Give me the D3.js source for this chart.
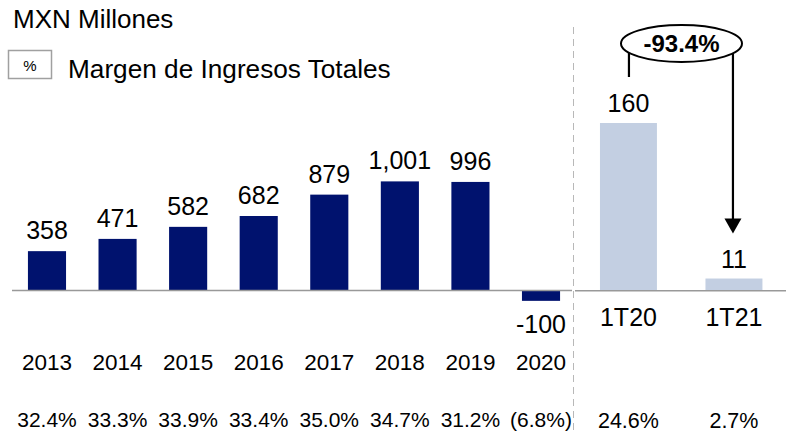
<!DOCTYPE html>
<html>
<head>
<meta charset="utf-8">
<script src="https://cdn.jsdelivr.net/npm/d3@7"></script>
<style>
  html, body { margin: 0; padding: 0; background: #fff; }
  svg { display: block; font-family: "Liberation Sans", Arial, sans-serif; }
</style>
</head>
<body>
<svg id="chart" width="786" height="432"></svg>
<script>
const years = ["2013", "2014", "2015", "2016", "2017", "2018", "2019", "2020"];
const annualValues = [358, 471, 582, 682, 879, 1001, 996, -100];
const annualMargins = [32.4, 33.3, 33.9, 33.4, 35.0, 34.7, 31.2, -6.8];
const quarters = ["1T20", "1T21"];
const quarterValues = [160, 11];
const quarterMargins = [24.6, 2.7];
const changeLabel = "-93.4%";
const unitLabel = "MXN Millones";
const legendLabel = "Margen de Ingresos Totales";

const navy = "#00126E";
const light = "#C3CFE2";
const fmt = d3.formatLocale({decimal: ".", thousands: ",", grouping: [3], currency: ["$", ""], minus: "-"}).format(",");
const pct = v => v < 0 ? "(" + Math.abs(v).toFixed(1) + "%)" : v.toFixed(1) + "%";

const svg = d3.select("#chart");
const baseY = 290;

// scales
const xA = d3.scaleBand().domain(years).range([11.7, 576.3]).paddingInner(0.46).paddingOuter(0.23);
const yA = d3.scaleLinear().domain([0, 1000]).range([baseY, 181.5]);
const xQ = d3.scaleBand().domain(quarters).range([575.7, 786.7]).paddingInner(0.46).paddingOuter(0.23);
const yQ = d3.scaleLinear().domain([0, 160]).range([baseY, 123]);

// title + legend
svg.append("text").attr("x", 13).attr("y", 28).attr("font-size", 26).attr("fill", "#000").text(unitLabel);
svg.append("rect").attr("x", 8.5).attr("y", 50.5).attr("width", 43).attr("height", 28)
  .attr("fill", "#fff").attr("stroke", "#a0a0a0").attr("stroke-width", 1.5);
svg.append("text").attr("x", 30).attr("y", 71).attr("text-anchor", "middle").attr("font-size", 15).text("%");
svg.append("text").attr("x", 68).attr("y", 78).attr("font-size", 26.2).attr("fill", "#000").text(legendLabel);

// divider
svg.append("line").attr("x1", 573.5).attr("x2", 573.5).attr("y1", 27).attr("y2", 432)
  .attr("stroke", "#b8b8b8").attr("stroke-width", 1).attr("stroke-dasharray", "7,5");

// annual bars
svg.append("g").selectAll("rect").data(years).join("rect")
  .attr("x", d => xA(d))
  .attr("width", xA.bandwidth())
  .attr("y", (d, i) => Math.min(yA(annualValues[i]), yA(0)))
  .attr("height", (d, i) => Math.abs(yA(annualValues[i]) - yA(0)))
  .attr("fill", navy);

// quarter bars
svg.append("g").selectAll("rect").data(quarters).join("rect")
  .attr("x", d => xQ(d))
  .attr("width", xQ.bandwidth())
  .attr("y", (d, i) => yQ(quarterValues[i]))
  .attr("height", (d, i) => yQ(0) - yQ(quarterValues[i]))
  .attr("fill", light);

// baseline axes
svg.append("line").attr("x1", 12).attr("x2", 572).attr("y1", baseY + 0.5).attr("y2", baseY + 0.5)
  .attr("stroke", "#999").attr("stroke-width", 1.5);
svg.append("line").attr("x1", 575).attr("x2", 786).attr("y1", baseY + 0.8).attr("y2", baseY + 0.8)
  .attr("stroke", "#999").attr("stroke-width", 1.5);

// value labels
svg.append("g").selectAll("text").data(years).join("text")
  .attr("x", d => xA(d) + xA.bandwidth() / 2)
  .attr("y", (d, i) => annualValues[i] >= 0 ? yA(annualValues[i]) - 12 : yA(annualValues[i]) + 32)
  .attr("text-anchor", "middle").attr("font-size", 25)
  .text((d, i) => fmt(annualValues[i]));
svg.append("g").selectAll("text").data(quarters).join("text")
  .attr("x", d => xQ(d) + xQ.bandwidth() / 2)
  .attr("y", (d, i) => yQ(quarterValues[i]) - 11)
  .attr("text-anchor", "middle").attr("font-size", 25)
  .text((d, i) => fmt(quarterValues[i]));

// category labels
svg.append("g").selectAll("text").data(years).join("text")
  .attr("x", d => xA(d) + xA.bandwidth() / 2).attr("y", 370)
  .attr("text-anchor", "middle").attr("font-size", 22.5).text(d => d);
svg.append("g").selectAll("text").data(quarters).join("text")
  .attr("x", d => xQ(d) + xQ.bandwidth() / 2).attr("y", 326)
  .attr("text-anchor", "middle").attr("font-size", 25).text(d => d);

// margins
svg.append("g").selectAll("text").data(years).join("text")
  .attr("x", d => xA(d) + xA.bandwidth() / 2).attr("y", 427)
  .attr("text-anchor", "middle").attr("font-size", 21).text((d, i) => pct(annualMargins[i]));
svg.append("g").selectAll("text").data(quarters).join("text")
  .attr("x", d => xQ(d) + xQ.bandwidth() / 2).attr("y", 428)
  .attr("text-anchor", "middle").attr("font-size", 21.5).text((d, i) => pct(quarterMargins[i]));

// change annotation
const cx = 681.5, cy = 43.5, rx = 60.5, ry = 18.5;
const x1 = xQ("1T20") + xQ.bandwidth() / 2 + 0.5;
const x2 = xQ("1T21") + xQ.bandwidth() / 2 - 1;
const yOn = x => cy + ry * Math.sqrt(Math.max(0, 1 - Math.pow((x - cx) / rx, 2)));
svg.append("line").attr("x1", x1).attr("x2", x1).attr("y1", yOn(x1)).attr("y2", 77)
  .attr("stroke", "#000").attr("stroke-width", 2.2);
const tipY = yQ(quarterValues[1]) - 45;
svg.append("line").attr("x1", x2).attr("x2", x2).attr("y1", yOn(x2)).attr("y2", tipY - 12)
  .attr("stroke", "#000").attr("stroke-width", 2.2);
svg.append("path")
  .attr("d", `M${x2 - 8.5},${tipY - 15} L${x2 + 8.5},${tipY - 15} L${x2},${tipY} Z`)
  .attr("fill", "#000");
svg.append("ellipse").attr("cx", cx).attr("cy", cy).attr("rx", rx).attr("ry", ry)
  .attr("fill", "#fff").attr("stroke", "#000").attr("stroke-width", 2);
svg.append("text").attr("x", cx).attr("y", 51.5).attr("text-anchor", "middle")
  .attr("font-size", 24).attr("font-weight", "bold").text(changeLabel);
</script>
</body>
</html>
